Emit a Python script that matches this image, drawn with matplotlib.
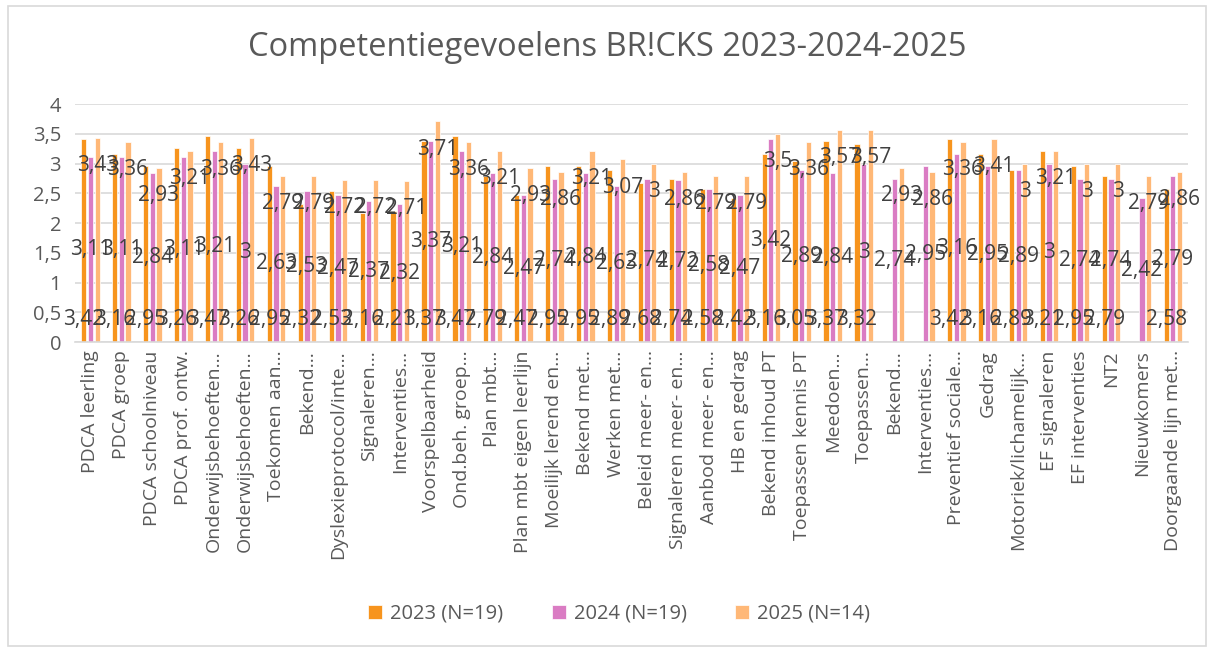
import matplotlib
matplotlib.use("Agg")
import matplotlib.pyplot as plt
import numpy as np
from matplotlib.patches import Rectangle

plt.rcParams["font.family"] = ["Open Sans", "DejaVu Sans"]

categories = [
    "PDCA leerling", "PDCA groep", "PDCA schoolniveau", "PDCA prof. ontw.",
    "Onderwijsbehoeften…", "Onderwijsbehoeften…", "Toekomen aan…", "Bekend…",
    "Dyslexieprotocol/inte…", "Signaleren…", "Interventies…", "Voorspelbaarheid",
    "Ond.beh. groep…", "Plan mbt…", "Plan mbt eigen leerlijn", "Moeilijk lerend en…",
    "Bekend met…", "Werken met…", "Beleid meer- en…", "Signaleren meer- en…",
    "Aanbod meer- en…", "HB en gedrag", "Bekend inhoud PT", "Toepassen kennis PT",
    "Meedoen…", "Toepassen…", "Bekend…", "Interventies…",
    "Preventief sociale…", "Gedrag", "Motoriek/lichamelijk…", "EF signaleren",
    "EF interventies", "NT2", "Nieuwkomers", "Doorgaande lijn met…",
]
nan = np.nan
v2023 = [3.42, 3.16, 2.95, 3.26, 3.47, 3.26, 2.95, 2.32, 2.53, 2.16, 2.21, 3.37,
         3.47, 2.79, 2.47, 2.95, 2.95, 2.89, 2.68, 2.74, 2.58, 2.42, 3.16, 3.05,
         3.37, 3.32, nan, nan, 3.42, 3.16, 2.89, 3.21, 2.95, 2.79, nan, 2.58]
v2024 = [3.11, 3.11, 2.84, 3.11, 3.21, 3.00, 2.63, 2.53, 2.47, 2.37, 2.32, 3.37,
         3.21, 2.84, 2.47, 2.74, 2.84, 2.63, 2.74, 2.72, 2.58, 2.47, 3.42, 2.89,
         2.84, 3.00, 2.74, 2.95, 3.16, 2.95, 2.89, 3.00, 2.74, 2.74, 2.42, 2.79]
v2025 = [3.43, 3.36, 2.93, 3.21, 3.36, 3.43, 2.79, 2.79, 2.72, 2.72, 2.71, 3.71,
         3.36, 3.21, 2.93, 2.86, 3.21, 3.07, 3.00, 2.86, 2.79, 2.79, 3.50, 3.36,
         3.57, 3.57, 2.93, 2.86, 3.36, 3.41, 3.00, 3.21, 3.00, 3.00, 2.79, 2.86]
series = ["2023 (N=19)", "2024 (N=19)", "2025 (N=14)"]
colors = ["#F7941D", "#DA7CC3", "#FFB877"]

TXT = "#595959"


def fmt(v):
    s = f"{v:.2f}".rstrip("0").rstrip(".")
    return s.replace(".", ",")


fig = plt.figure(figsize=(12.14, 6.5), dpi=100)
fig.patches.append(Rectangle((0.007, 0.006), 0.986, 0.985, transform=fig.transFigure,
                             fill=False, edgecolor="#D9D9D9", lw=1.2))
ax = fig.add_axes([0.0618, 0.4738, 0.917, 0.3662])

x = np.arange(len(categories))
w, step = 0.17, 0.215
for i, (vals, col) in enumerate(zip([v2023, v2024, v2025], colors)):
    vals = np.asarray(vals, dtype=float)
    xs = x + (i - 1) * step
    ax.bar(xs, vals, width=w, color=col, edgecolor="white", linewidth=0.5, label=series[i], zorder=2)
    for xi, v in zip(xs, vals):
        if np.isnan(v):
            continue
        if i == 0:    # inside base
            ax.annotate(fmt(v), (xi, 0), xytext=(0, 16), textcoords="offset points",
                        ha="center", va="center", fontsize=15, color="#404040", zorder=3)
        elif i == 1:  # centre
            ax.annotate(fmt(v), (xi, v / 2), ha="center", va="center",
                        fontsize=15, color="#404040", zorder=3)
        else:         # inside end
            ax.annotate(fmt(v), (xi, v), xytext=(0, -20), textcoords="offset points",
                        ha="center", va="center", fontsize=15, color="#404040", zorder=3)

ax.set_xlim(-0.5, len(categories) - 0.5)
ax.set_ylim(0, 4)
yt = np.arange(0, 4.01, 0.5)
ax.set_yticks(yt)
ax.set_yticklabels([fmt(t) for t in yt], fontsize=14.5, color=TXT)
ax.set_xticks(x)
ax.set_xticklabels(categories, rotation=90, fontsize=14, color=TXT)
ax.tick_params(length=0)
ax.tick_params(axis="y", pad=10)
ax.tick_params(axis="x", pad=6)
ax.grid(axis="y", color="#D9D9D9", lw=1.2, zorder=0)
for s in ["top", "right", "left"]:
    ax.spines[s].set_visible(False)
ax.spines["bottom"].set_color("#D9D9D9")
ax.spines["bottom"].set_linewidth(1.2)

fig.suptitle("Competentiegevoelens BR!CKS 2023-2024-2025", y=0.952, fontsize=23.5, color=TXT)
fig.legend(loc="center", bbox_to_anchor=(0.51, 0.056), ncol=3, frameon=False, fontsize=14.5,
           handlelength=0.7, handleheight=0.7, columnspacing=2.4, handletextpad=0.4,
           labelcolor=TXT)

fig.savefig("out.png", dpi=100)
